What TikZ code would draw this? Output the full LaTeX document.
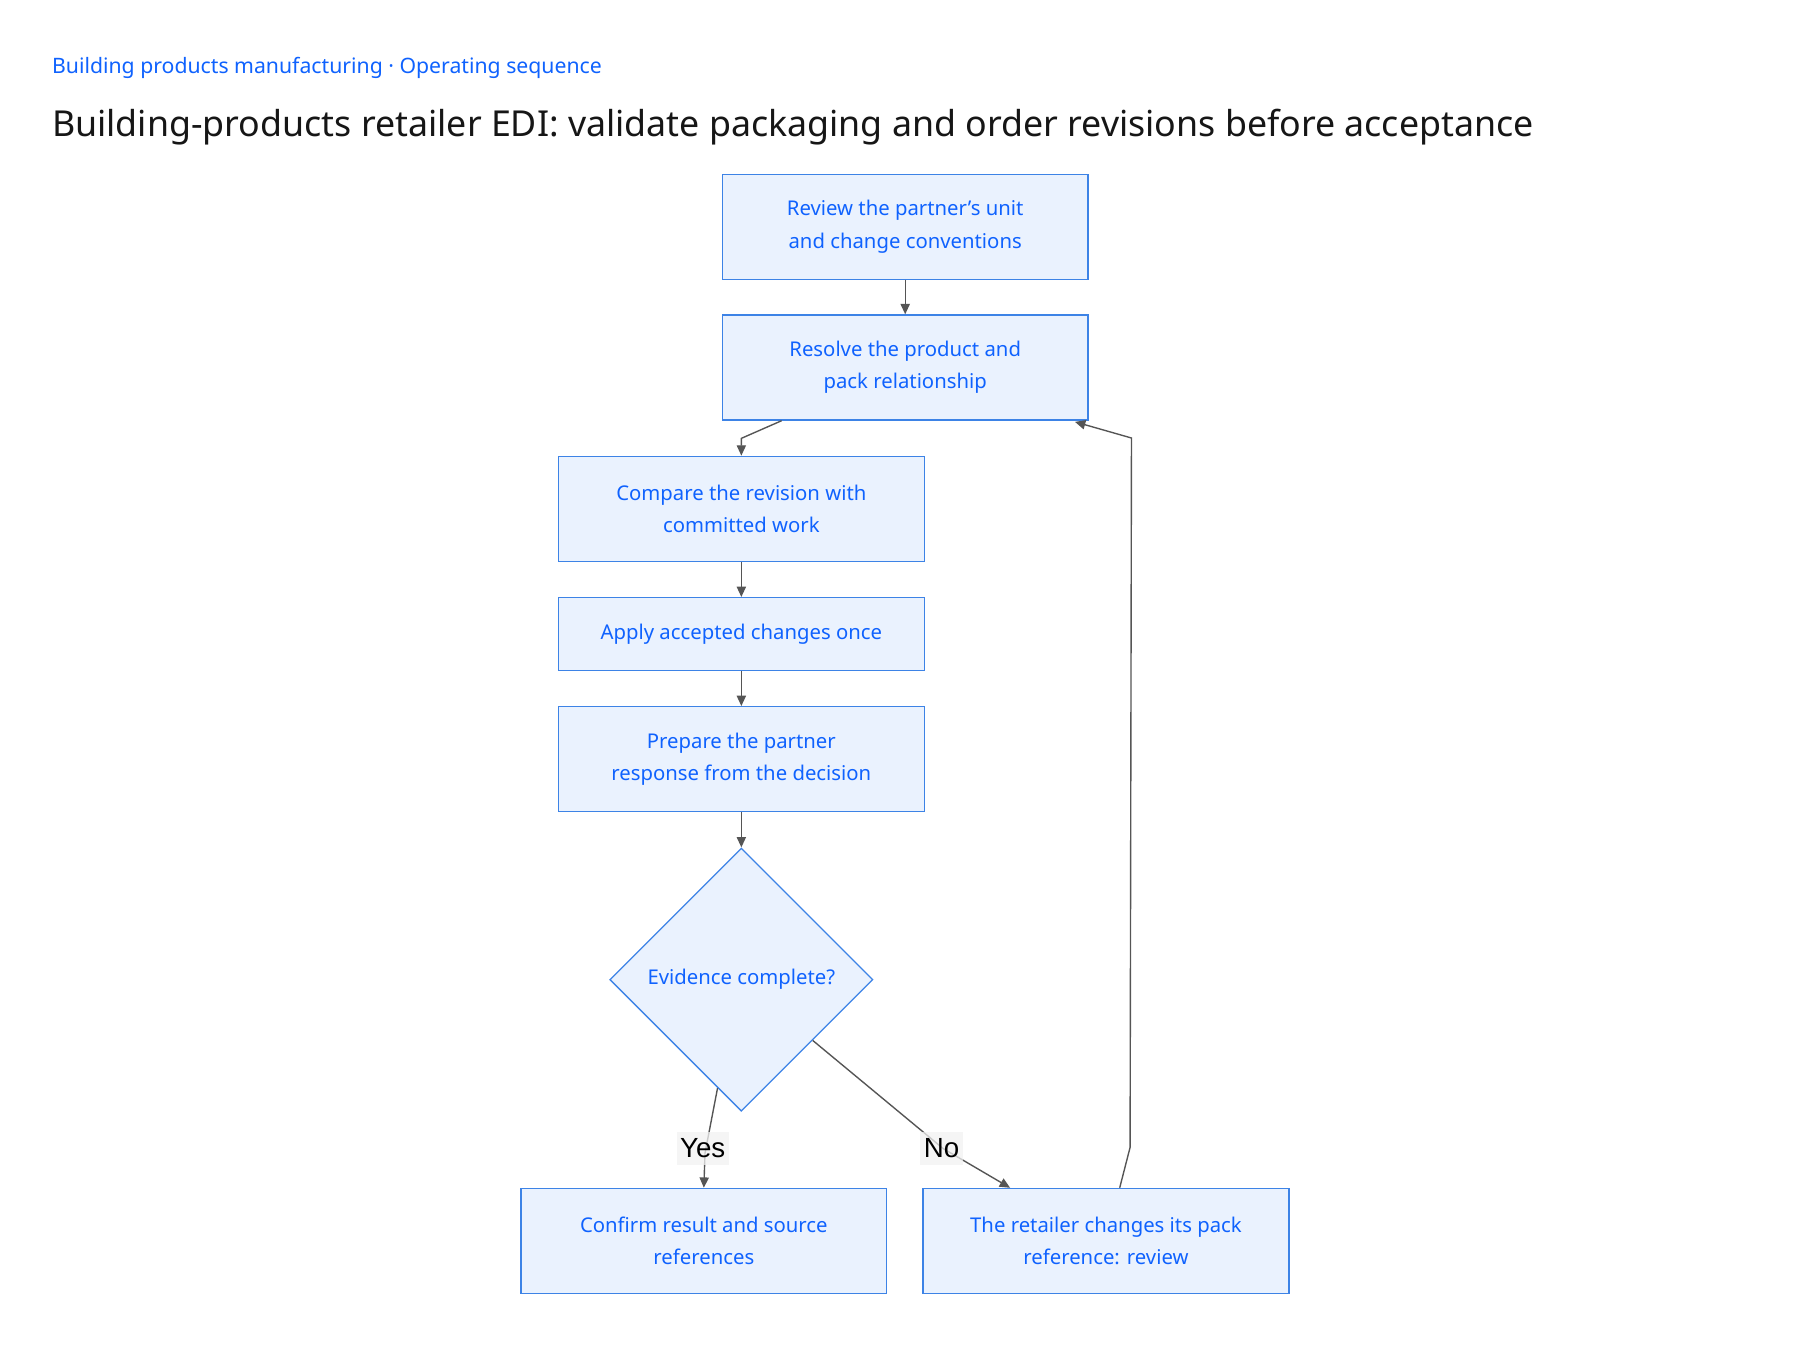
\documentclass[tikz,border=0pt]{standalone}
\usepackage{fontspec}
\setmainfont{Noto Sans}
\newfontfamily\labelfont{Liberation Sans}
\usetikzlibrary{shapes.geometric,arrows.meta,calc}
\definecolor{txtblue}{HTML}{0F62FE}
\definecolor{boxline}{HTML}{3D83E6}
\definecolor{boxfill}{HTML}{EAF2FE}
\definecolor{edgegray}{HTML}{555555}
\definecolor{titlecol}{HTML}{161616}
\definecolor{lblbg}{HTML}{F2F2F2}
\begin{document}
\begin{tikzpicture}[x=1pt,y=-1pt,
  stepbox/.style={draw=boxline,fill=boxfill,text=txtblue,line width=1.2pt,
    minimum width=317pt,minimum height=91pt,inner sep=0pt,align=center,
    font=\fontsize{17.6}{28}\selectfont},
  decision/.style={diamond,draw=boxline,fill=boxfill,text=txtblue,line width=1.2pt,
    minimum width=228pt,minimum height=228pt,inner sep=0pt,align=center,
    font=\fontsize{17.6}{28}\selectfont},
  edge/.style={draw=edgegray,line width=1.2pt,-{Triangle[length=9pt,width=8pt]}},
  elabel/.style={fill=lblbg,fill opacity=0.75,text opacity=1,text=black,
    font=\labelfont\fontsize{24}{26}\selectfont,inner xsep=3pt,inner ysep=6pt}]
\useasboundingbox (0,0) rectangle (1560,1170);
\node[anchor=base west,text=txtblue,font=\fontsize{18.4}{20}\selectfont,inner sep=0pt] (sub) at (45,64) {Building products manufacturing · Operating sequence};
\node[anchor=base west,text=titlecol,font=\fontsize{31}{34}\selectfont,inner sep=0pt] (title) at (45,118) {Building-products retailer EDI: validate packaging and order revisions before acceptance};

\node[stepbox] (n1) at (784.5,196.5) {Review the partner’s unit\\and change conventions};
\node[stepbox] (n2) at (784.5,318.5) {Resolve the product and\\pack relationship};
\node[stepbox] (n3) at (642.5,441) {Compare the revision with\\committed work};
\node[stepbox,minimum height=63pt] (n4) at (642.5,549.5) {Apply accepted changes once};
\node[stepbox] (n5) at (642.5,658) {Prepare the partner\\response from the decision};
\node[decision] (n6) at (642.5,849) {Evidence complete?};
\node[stepbox] (n7) at (610,1075.5) {Confirm result and source\\references};
\node[stepbox] (n8) at (958.5,1075.5) {The retailer changes its pack\\reference: review};

\draw[edge] (n1) -- (n2);
\draw[edge] ($(n2.south west)+(52,0)$) -- ($(n3.north)+(0,-15)$) -- (n3.north);
\draw[edge] (n3) -- (n4);
\draw[edge] (n4) -- (n5);
\draw[edge] (n5) -- (n6);
\draw[edge] ($(n6.west)!0.82!(n6.south)$) -- ($(n7.north)+(1,-30)$) -- (n7.north);
\draw[edge] ($(n6.south)!0.54!(n6.east)$) -- ($(n8.north west)+(18,-34)$) -- ($(n8.north west)+(76,0)$);
\draw[edge] ($(n8.north west)+(171,0)$) -- ($(n8.north west)+(180,-35)$) -- ($(n2.south east)+(37,15)$) -- ($(n2.south east)+(-12,1)$);

\node[elabel] (yes) at (609,995) {Yes};
\node[elabel] (no) at (816,995) {No};
\end{tikzpicture}
\end{document}
